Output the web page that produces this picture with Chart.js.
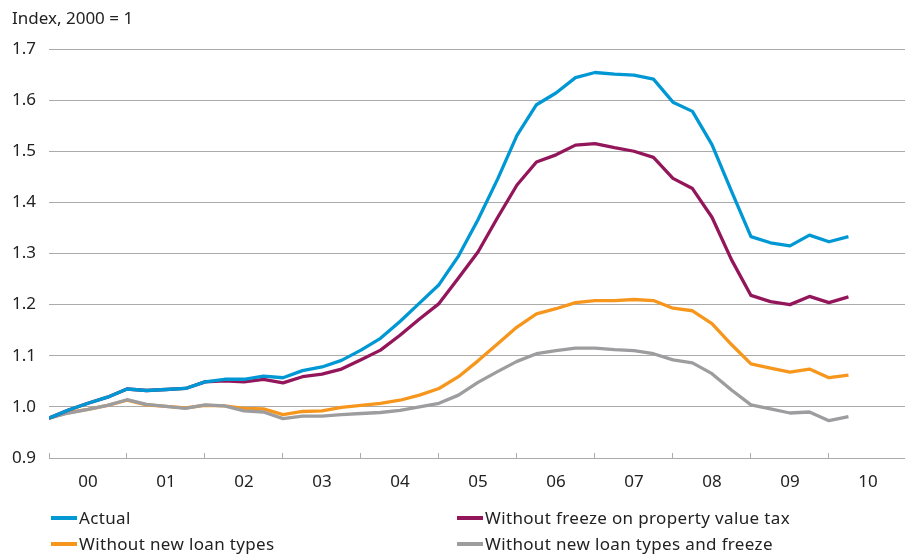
<!DOCTYPE html>
<html>
<head>
<meta charset="utf-8">
<script src="https://cdn.jsdelivr.net/npm/chart.js@4/dist/chart.umd.min.js"></script>
<style>
  body { margin: 0; background: #fff; }
  #wrap { position: relative; width: 905px; height: 557px; font-family: "Noto Sans", sans-serif; color: #222; }
  #wrap canvas { position: absolute; left: 0; top: 0; }
  .unit { position: absolute; left: 12px; top: 6px; font-size: 17px; }
  .leg { position: absolute; font-size: 17px; line-height: 20px; white-space: nowrap; letter-spacing: 0.35px; }
  .leg i { display: inline-block; width: 26px; height: 4px; vertical-align: middle; margin-right: 2px; margin-top: -3px; }
</style>
</head>
<body>
<div id="wrap">
  <canvas id="myChart" width="905" height="557"></canvas>
  <div class="unit">Index, 2000 = 1</div>
  <div class="leg" style="left:51px; top:508px"><i style="background:#0098d4"></i>Actual</div>
  <div class="leg" style="left:457px; top:508px"><i style="background:#93165b"></i>Without freeze on property value tax</div>
  <div class="leg" style="left:51px; top:534px"><i style="background:#f7961d"></i>Without new loan types</div>
  <div class="leg" style="left:457px; top:534px"><i style="background:#9d9d9f"></i>Without new loan types and freeze</div>
</div>
<script>
// kwartalen 2000 Q1 t/m 2010 Q2
let quarters = [];
for (let y = 2000; y <= 2010; y++) {
	for (let q = 1; q <= 4; q++) quarters.push(y + 'Q' + q);
}
quarters = quarters.slice(0, 42);

// jaarlabels onder de as
let years = ['00', '01', '02', '03', '04', '05', '06', '07', '08', '09', '10'];

let actual = [0.978, 0.994, 1.007, 1.019, 1.035, 1.032, 1.034, 1.036, 1.049, 1.054,
	1.054, 1.060, 1.057, 1.071, 1.078, 1.091, 1.111, 1.134, 1.167, 1.203,
	1.239, 1.295, 1.366, 1.445, 1.531, 1.591, 1.614, 1.644, 1.654, 1.651,
	1.649, 1.641, 1.596, 1.578, 1.513, 1.422, 1.333, 1.321, 1.315, 1.336,
	1.323, 1.333];

let noFreeze = [0.978, 0.994, 1.007, 1.019, 1.035, 1.032, 1.034, 1.036, 1.049, 1.051,
	1.049, 1.054, 1.047, 1.059, 1.064, 1.074, 1.092, 1.111, 1.140, 1.172,
	1.202, 1.252, 1.303, 1.370, 1.434, 1.479, 1.493, 1.512, 1.515, 1.507,
	1.500, 1.488, 1.447, 1.427, 1.371, 1.288, 1.218, 1.206, 1.200, 1.216,
	1.204, 1.215];

let noLoanTypes = [0.978, 0.989, 0.995, 1.003, 1.013, 1.004, 1.001, 0.998, 1.003, 1.002,
	0.997, 0.996, 0.985, 0.991, 0.992, 0.999, 1.003, 1.007, 1.013, 1.023,
	1.036, 1.059, 1.090, 1.123, 1.156, 1.182, 1.192, 1.204, 1.208, 1.208,
	1.210, 1.208, 1.193, 1.188, 1.163, 1.122, 1.084, 1.076, 1.068, 1.074,
	1.057, 1.062];

let noLoanNoFreeze = [0.978, 0.988, 0.995, 1.003, 1.014, 1.005, 1.001, 0.997, 1.004, 1.002,
	0.992, 0.990, 0.977, 0.982, 0.982, 0.985, 0.987, 0.989, 0.993, 1.000,
	1.007, 1.023, 1.048, 1.069, 1.089, 1.104, 1.110, 1.115, 1.115, 1.112,
	1.110, 1.104, 1.092, 1.086, 1.065, 1.033, 1.004, 0.996, 0.988, 0.990,
	0.973, 0.981];

// van waarden naar punten op een lineaire x-as (index van het kwartaal)
function pts(arr) {
	return arr.map((v, i) => ({ x: i, y: v, q: quarters[i] }));
}

let gridGray = '#ababab';

let ctx = document.getElementById('myChart').getContext('2d');

let chart = new Chart(ctx, {
	type: 'line',
	data: {
		datasets: [
			{ label: 'Actual', data: pts(actual), borderColor: '#0098d4' },
			{ label: 'Without freeze on property value tax', data: pts(noFreeze), borderColor: '#93165b' },
			{ label: 'Without new loan types and freeze', data: pts(noLoanNoFreeze), borderColor: '#9d9d9f' },
			{ label: 'Without new loan types', data: pts(noLoanTypes), borderColor: '#f7961d' }
		]
	},
	options: {
		responsive: false,
		animation: false,
		layout: { padding: { top: 49, left: 0, right: 0, bottom: 0 } },
		elements: {
			line: { borderWidth: 3.3, tension: 0, borderJoinStyle: 'round' },
			point: { radius: 0 }
		},
		plugins: {
			legend: { display: false },
			tooltip: { enabled: false }
		},
		scales: {
			x: {
				type: 'linear',
				min: 0,
				max: 43.9,
				afterBuildTicks: function (scale) {
					let t = [];
					for (let v = 0; v <= 42; v += 2) t.push({ value: v });
					scale.ticks = t;
				},
				afterFit: function (scale) { scale.height = 99; },
				border: { display: true, color: gridGray, width: 1 },
				grid: {
					drawOnChartArea: false,
					tickLength: -5,
					tickColor: c => (c.tick && c.tick.value % 4 === 0) ? gridGray : 'rgba(0,0,0,0)'
				},
				ticks: {
					padding: 19,
					autoSkip: false,
					maxRotation: 0,
					color: '#222',
					font: { family: 'Noto Sans', size: 17 },
					callback: v => (v % 4 === 2) ? years[(v - 2) / 4] : ''
				}
			},
			y: {
				min: 0.9,
				max: 1.7,
				afterFit: function (scale) { scale.width = 49; },
				border: { display: false },
				grid: { color: gridGray, lineWidth: 1, drawTicks: false },
				ticks: {
					stepSize: 0.1,
					padding: 13,
					color: '#222',
					font: { family: 'Noto Sans', size: 17 },
					callback: v => v.toFixed(1)
				}
			}
		}
	}
});
</script>
</body>
</html>
